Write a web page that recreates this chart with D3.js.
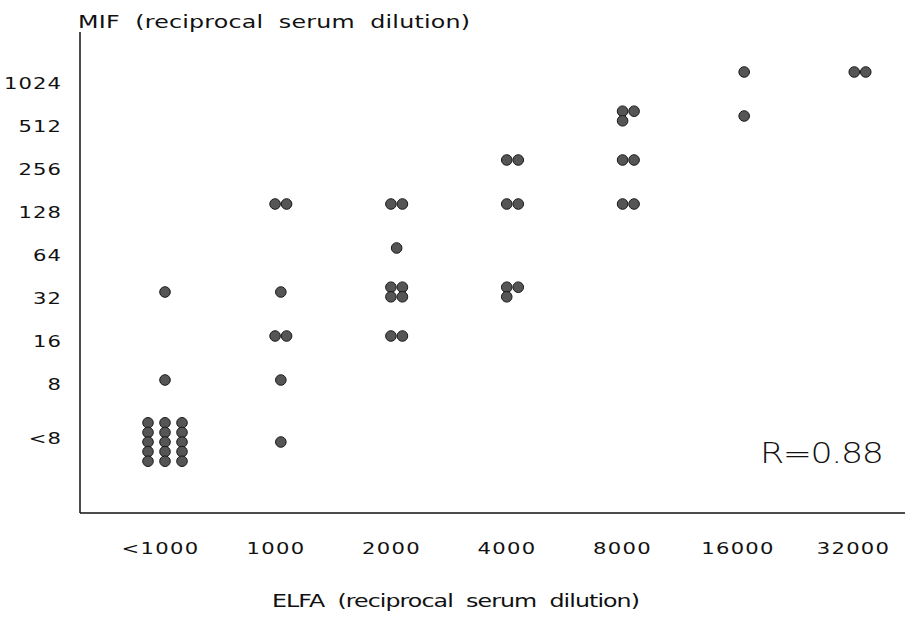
<!DOCTYPE html>
<html>
<head>
<meta charset="utf-8">
<script src="https://cdn.jsdelivr.net/npm/d3@7"></script>
<style>
  html, body { margin: 0; padding: 0; background: #fff; }
  svg { display: block; }
  text { font-family: "DejaVu Sans", sans-serif; fill: #111; }
</style>
</head>
<body>
<svg id="chart" width="905" height="618"></svg>
<script>
// ELFA titre categories (x) and MIF titre categories (y, top to bottom)
const elfaCats = ["<1000", "1000", "2000", "4000", "8000", "16000", "32000"];
const mifCats = ["1024", "512", "256", "128", "64", "32", "16", "8", "<8"];

// number of sera observed at each ELFA / MIF titre pair
const elfaOf = ["<1000", "<1000", "<1000",
                "1000", "1000", "1000", "1000", "1000",
                "2000", "2000", "2000", "2000",
                "4000", "4000", "4000",
                "8000", "8000", "8000",
                "16000", "16000",
                "32000"];
const mifOf  = ["32", "8", "<8",
                "128", "32", "16", "8", "<8",
                "128", "64", "32", "16",
                "256", "128", "32",
                "512", "256", "128",
                "1024", "512",
                "1024"];
const counts = [1, 1, 15,
                2, 1, 2, 1, 1,
                2, 1, 4, 2,
                2, 2, 3,
                3, 2, 2,
                1, 1,
                2];

const rLabel = "R=0.88";
const xTitle = "ELFA  (reciprocal  serum  dilution)";
const yTitle = "MIF  (reciprocal  serum  dilution)";

const svg = d3.select("#chart");
const WIDE = 1.32;   // horizontal stretch giving the broad plotter lettering

// scales: dot positions and tick-label positions
const x = d3.scalePoint().domain(elfaCats).range([165, 860]);
const xLab = d3.scalePoint().domain(elfaCats).range([160, 853]);
const yIdx = d3.scaleLinear().domain([0, 7, 8]).range([72, 380, 442]);
const yLabIdx = d3.scaleLinear().domain([0, 7, 8]).range([83, 384, 438]);
const y = c => yIdx(mifCats.indexOf(c));
const yLab = d3.scaleOrdinal().domain(mifCats).range(mifCats.map((c, i) => yLabIdx(i)));

// axis lines
svg.append("line").attr("x1", 80).attr("x2", 80).attr("y1", 32).attr("y2", 513)
  .attr("stroke", "#111").attr("stroke-width", 1.5);
svg.append("line").attr("x1", 80).attr("x2", 905).attr("y1", 513).attr("y2", 513)
  .attr("stroke", "#111").attr("stroke-width", 1.5);

// y tick labels
const yAxis = d3.axisLeft(yLab).tickSize(0).tickPadding(0);
const gy = svg.append("g").attr("transform", "translate(62,0)").call(yAxis);
gy.select(".domain").remove();
gy.selectAll("text")
  .attr("x", 0).attr("font-family", "DejaVu Sans").attr("font-size", 16)
  .style("letter-spacing", "0.8px").attr("fill", "#111")
  .attr("dy", "0.36em").attr("transform", `scale(${WIDE},1)`);

// x tick labels
const xAxis = d3.axisBottom(xLab).tickSize(0).tickPadding(0);
const gx = svg.append("g").attr("transform", "translate(0,542)").call(xAxis);
gx.select(".domain").remove();
gx.selectAll("text")
  .attr("y", 0).attr("font-family", "DejaVu Sans").attr("font-size", 16)
  .style("letter-spacing", "1px").attr("fill", "#111")
  .attr("dy", "0.75em").attr("transform", `scale(${WIDE},1)`);

// titles
svg.append("text").attr("transform", `translate(78,28) scale(${WIDE},1)`)
  .attr("font-size", 18).attr("textLength", 392 / WIDE).attr("lengthAdjust", "spacing")
  .style("white-space", "pre").text(yTitle);
svg.append("text").attr("transform", `translate(272,607) scale(${WIDE},1)`)
  .attr("font-size", 18).attr("textLength", 368 / WIDE).attr("lengthAdjust", "spacing")
  .style("white-space", "pre").text(xTitle);

// correlation label
svg.append("text").attr("transform", "translate(760,463) scale(1.2,1)")
  .attr("font-size", 29).attr("font-weight", 200)
  .attr("textLength", 124 / 1.2).attr("lengthAdjust", "spacing")
  .text(rLabel);

// expand each titre pair into its individual sera, arranged in a small cluster
const dots = [];
counts.forEach((n, k) => {
  const cols = n <= 1 ? 1 : n <= 4 ? 2 : 3;
  const rows = Math.ceil(n / cols);
  const hGap = cols > 2 ? 17 : 11.5;
  const vGap = 9.6;
  for (let j = 0; j < n; j++) {
    const c = Math.floor(j / rows), r = j % rows;
    dots.push({
      cx: x(elfaOf[k]) + (c - (cols - 1) / 2) * hGap,
      cy: y(mifOf[k]) + (r - (rows - 1) / 2) * vGap
    });
  }
});

svg.append("g").selectAll("circle").data(dots).join("circle")
  .attr("cx", d => d.cx).attr("cy", d => d.cy).attr("r", 5.3)
  .attr("fill", "#555").attr("stroke", "#1a1a1a").attr("stroke-width", 1);
</script>
</body>
</html>
